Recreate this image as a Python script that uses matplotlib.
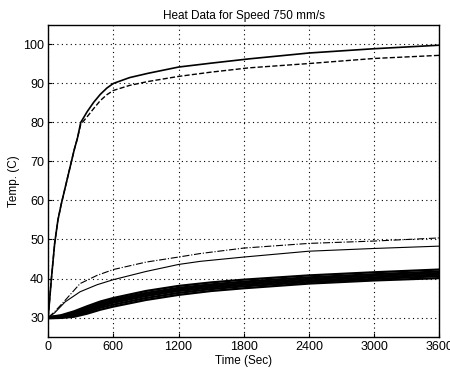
import numpy as np
import matplotlib
matplotlib.use("Agg")
import matplotlib.pyplot as plt

plt.rcParams['font.family'] = ['Liberation Sans', 'DejaVu Sans']
plt.rcParams['font.size'] = 8

# --- fast heating curves (top two) ---
t_fast = [0, 30, 60, 90, 120, 180, 240, 270, 300, 360, 420, 480, 540, 600, 750, 920, 1200, 1500, 1850, 2400, 3000, 3600]
temp_solid_top = [30, 40, 49, 55, 59, 66, 73, 76, 80, 82.8, 85.2, 87.2, 88.8, 90, 91.5, 92.6, 94.2, 95.2, 96.3, 97.8, 98.9, 99.8]
temp_dash_top = [30, 40, 49, 55, 59, 66, 73, 76, 79.5, 81.5, 83.6, 85.6, 87.1, 88.2, 89.5, 90.5, 91.8, 92.9, 94.0, 95.1, 96.4, 97.2]

# --- medium curves ---
t_mid = [0, 60, 156, 294, 450, 600, 900, 1200, 1400, 1800, 2400, 3000, 3600]
temp_dashdot = [30, 31.5, 34.4, 38.7, 40.8, 42.3, 44.2, 45.5, 46.4, 47.8, 49.0, 49.6, 50.4]
temp_thin = [30, 31.2, 34.0, 36.6, 38.4, 39.7, 41.8, 43.6, 44.4, 45.5, 47.0, 47.7, 48.3]

# --- slow curves (thick band) ---
t_slow = [0, 120, 240, 360, 480, 600, 900, 1200, 1500, 1800, 2400, 3000, 3600]
band = {
    'c1': [29.8, 29.9, 30.2, 31.0, 32.0, 32.8, 34.5, 35.8, 36.8, 37.5, 38.7, 39.5, 40.1],
    'c2': [29.9, 30.0, 30.5, 31.4, 32.5, 33.3, 35.0, 36.3, 37.3, 38.0, 39.1, 39.9, 40.6],
    'c3': [30.0, 30.1, 30.8, 31.8, 32.9, 33.8, 35.5, 36.8, 37.7, 38.4, 39.5, 40.3, 41.0],
    'c4': [30.0, 30.2, 31.0, 32.1, 33.3, 34.2, 35.9, 37.2, 38.1, 38.8, 39.9, 40.7, 41.4],
    'c5': [30.1, 30.4, 31.3, 32.5, 33.7, 34.6, 36.3, 37.6, 38.5, 39.2, 40.3, 41.1, 41.8],
    'c6': [30.1, 30.6, 31.6, 32.9, 34.1, 35.0, 36.8, 38.1, 39.0, 39.7, 40.8, 41.6, 42.3],
}

x_ticks = [0, 600, 1200, 1800, 2400, 3000, 3600]
y_ticks = [30, 40, 50, 60, 70, 80, 90, 100]

fig = plt.figure(figsize=(4.5, 3.72), dpi=100)
ax = fig.add_axes([0.107, 0.094, 0.869, 0.839])

for vals in band.values():
    ax.plot(t_slow, vals, color='black', linewidth=1.6)

ax.plot(t_mid, temp_dashdot, color='black', linewidth=0.8, linestyle='-.')
ax.plot(t_mid, temp_thin, color='black', linewidth=0.8)
ax.plot(t_fast, temp_solid_top, color='black', linewidth=1.2)
ax.plot(t_fast, temp_dash_top, color='black', linewidth=1.0, linestyle='--')

ax.set_xlim(0, 3600)
ax.set_ylim(25, 105)
ax.set_xticks(x_ticks)
ax.set_yticks(y_ticks)
ax.grid(True, linestyle=(0, (1, 3)), color='black', linewidth=0.8)
ax.tick_params(direction='in', length=3, colors='black', labelsize=9, pad=3)
for spine in ax.spines.values():
    spine.set_color('black')
    spine.set_linewidth(1.0)

ax.set_title('Heat Data for Speed 750 mm/s', fontsize=8.5, pad=4)
ax.set_xlabel('Time (Sec)', fontsize=8.5, labelpad=1)
ax.set_ylabel('Temp. (C)', fontsize=8.5, labelpad=2)

fig.savefig('out.png', dpi=100, facecolor='white')
